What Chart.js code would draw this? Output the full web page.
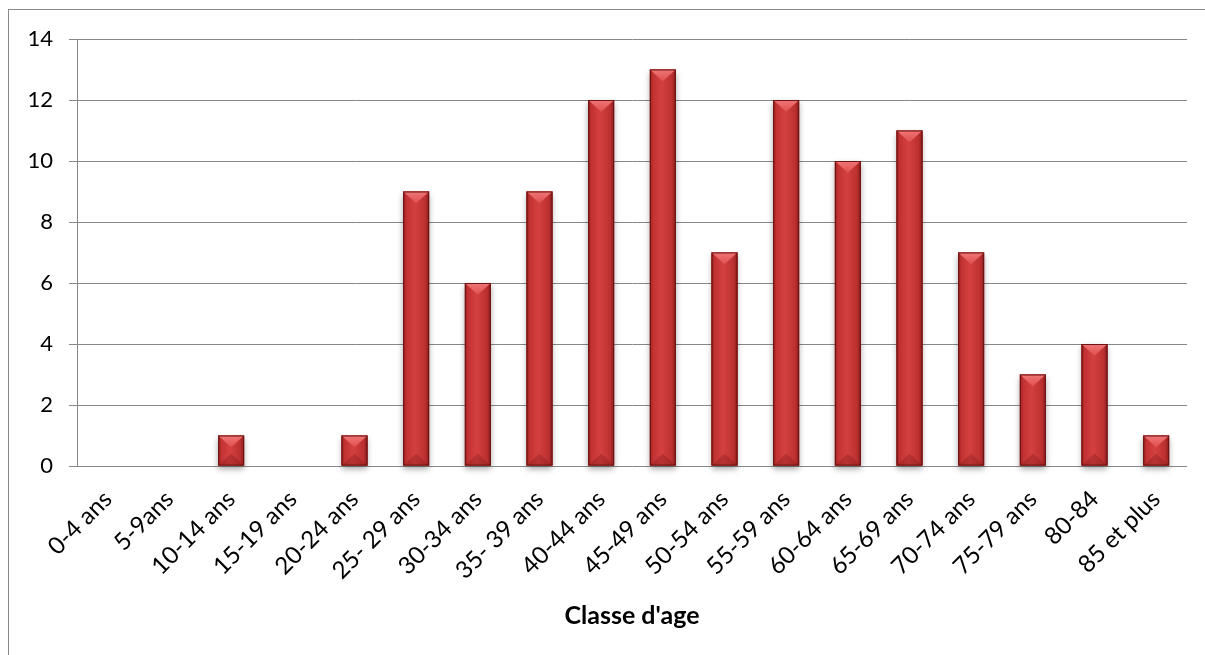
<!DOCTYPE html>
<html>
<head>
<meta charset="utf-8">
<script src="https://cdn.jsdelivr.net/npm/chart.js@4.4.1/dist/chart.umd.min.js"></script>
<style>
  html, body { margin: 0; padding: 0; background: #fff; overflow: hidden; }
  #frame { position: absolute; left: 8px; top: 9px; width: 1400px; height: 800px; border: 1px solid #888; box-sizing: border-box; }
  #wrap { position: absolute; left: 0; top: 0; width: 1205px; height: 655px; }
</style>
</head>
<body>
<div id="frame"></div>
<div id="wrap"><canvas id="c" width="1205" height="655"></canvas></div>
<script>
const categories = ["0-4 ans","5-9ans","10-14 ans","15-19 ans","20-24 ans","25- 29 ans","30-34 ans","35- 39 ans","40-44 ans","45-49 ans","50-54 ans","55-59 ans","60-64 ans","65-69 ans","70-74 ans","75-79 ans","80-84","85 et plus"];
const counts = [0,0,1,0,1,9,6,9,12,13,7,12,10,11,7,3,4,1];
const yTicks = [0,2,4,6,8,10,12,14];
const xTitle = "Classe d'age";

const FONT = "Lato, 'Open Sans', sans-serif";

const shadowPlugin = {
  id: 'barShadow',
  beforeDatasetsDraw(chart) {
    const ctx = chart.ctx;
    const meta = chart.getDatasetMeta(0);
    ctx.save();
    meta.data.forEach(bar => {
      const p = bar.getProps(['x','y','base','width'], true);
      if (p.base - p.y < 1) return;
      ctx.shadowColor = 'rgba(0,0,0,0.35)';
      ctx.shadowBlur = 6;
      ctx.shadowOffsetX = 0;
      ctx.shadowOffsetY = 3;
      ctx.fillStyle = '#b03030';
      ctx.fillRect(p.x - p.width/2, p.y, p.width, p.base - p.y);
    });
    ctx.restore();
  }
};

const bevelPlugin = {
  id: 'bevel',
  afterDatasetsDraw(chart) {
    const ctx = chart.ctx;
    const meta = chart.getDatasetMeta(0);
    ctx.save();
    meta.data.forEach(bar => {
      const p = bar.getProps(['x','y','base','width'], true);
      const h = p.base - p.y;
      if (h < 1) return;
      const l = p.x - p.width/2, r = p.x + p.width/2, w = p.width;
      const g = ctx.createLinearGradient(l, 0, r, 0);
      g.addColorStop(0, '#961f1f');
      g.addColorStop(0.12, '#c23232');
      g.addColorStop(0.45, '#d44040');
      g.addColorStop(0.85, '#bc3030');
      g.addColorStop(1, '#8a1c1c');
      ctx.fillStyle = g;
      ctx.fillRect(l, p.y, w, h);
      const d = Math.min(w * 0.45, h / 2);
      const tg = ctx.createLinearGradient(0, p.y, 0, p.y + d);
      tg.addColorStop(0, '#f07676');
      tg.addColorStop(1, '#e05050');
      ctx.fillStyle = tg;
      ctx.beginPath();
      ctx.moveTo(l, p.y); ctx.lineTo(r, p.y); ctx.lineTo(p.x, p.y + d); ctx.closePath();
      ctx.fill();
      ctx.fillStyle = 'rgba(120,20,20,0.3)';
      ctx.beginPath();
      ctx.moveTo(l, p.base); ctx.lineTo(r, p.base); ctx.lineTo(p.x, p.base - d); ctx.closePath();
      ctx.fill();
      ctx.strokeStyle = '#6a1414';
      ctx.lineWidth = 1;
      ctx.strokeRect(l + 0.5, p.y + 0.5, w - 1, h - 1);
    });
    ctx.restore();
  }
};

new Chart(document.getElementById('c'), {
  type: 'bar',
  data: {
    labels: categories,
    datasets: [{
      data: counts,
      backgroundColor: '#c83a3a',
      borderWidth: 0,
      barPercentage: 0.7,
      categoryPercentage: 0.6
    }]
  },
  options: {
    responsive: false,
    animation: false,
    devicePixelRatio: 1,
    layout: { padding: { left: 0, top: 39, right: 18, bottom: 0 } },
    plugins: { legend: { display: false }, tooltip: { enabled: false } },
    scales: {
      x: {
        afterFit(axis) { axis.height = 189; },
        grid: { display: false },
        border: { display: false },
        ticks: { color: '#000', font: { family: FONT, size: 24 }, minRotation: 45, maxRotation: 45, padding: 11, autoSkip: false },
        title: { display: true, text: xTitle, color: '#000', font: { family: FONT, size: 25, weight: 'bold' }, padding: { top: 4, bottom: 24 } }
      },
      y: {
        min: 0, max: 14,
        afterFit(axis) { axis.width = 77; },
        afterBuildTicks(axis) { axis.ticks = yTicks.map(v => ({ value: v })); },
        grid: { color: '#888', lineWidth: 1, tickLength: 8, drawTicks: true },
        border: { display: true, color: '#888', width: 1 },
        ticks: { color: '#000', font: { family: FONT, size: 22 }, padding: 16 }
      }
    }
  },
  plugins: [shadowPlugin, bevelPlugin]
});
</script>
</body>
</html>
